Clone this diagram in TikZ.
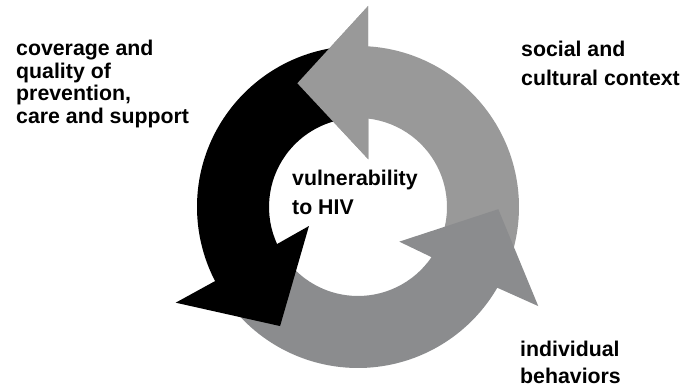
\documentclass[tikz,border=0pt]{standalone}
\usepackage{fontspec}
\setmainfont{Liberation Sans}
\definecolor{lgray}{RGB}{153,153,153}
\definecolor{mgray}{RGB}{139,140,142}
\tikzset{
  larr/.style  = {fill=lgray},
  marr/.style  = {fill=mgray},
  barr/.style  = {fill=black},
  lbl/.style   = {align=left, inner sep=0pt, anchor=base west,
                  font=\fontsize{21.3}{22.5}\selectfont\bfseries},
  lblw/.style  = {lbl, font=\fontsize{21.3}{29}\selectfont\bfseries},
}

\begin{document}
\begin{tikzpicture}[x=1pt,y=1pt]
  \useasboundingbox (0,0) rectangle (694,387);
  \begin{scope}[shift={(358,180)}]
    \fill[larr] (-25:161) arc[start angle=-25, end angle=86.4, radius=161]
      -- (87.1:201.3) -- (116.1:137.8) -- (77.8:48.8) -- (83.3:89)
      arc[start angle=83.3, end angle=-25, radius=89] -- cycle;
    \fill[marr] (215:161) arc[start angle=215, end angle=329.9, radius=161]
      -- (331.2:205.7) -- (359.1:140.3) -- (320:53.9) -- (325.7:89)
      arc[start angle=325.7, end angle=215, radius=89] -- cycle;
    \fill[barr] (92:161) arc[start angle=92, end angle=207.4, radius=161]
      -- (207.7:205.9) -- (236.8:142.3) -- (201.2:52.6) -- (204.6:89)
      arc[start angle=204.6, end angle=92, radius=89] -- cycle;
    \fill[larr] (87.1:201.3) -- (116.1:137.8) -- (77.8:48.8) -- cycle;
  \end{scope}
  \node[lbl] (cov) at (16,263.5) {coverage and\\quality of\\prevention,\\care and support};
  \node[lblw] (soc) at (521,301) {social and\\cultural context};
  \node[lblw] (vul) at (292,172) {vulnerability\\to HIV};
  \node[lblw, font=\fontsize{21.3}{27.5}\selectfont\bfseries] (ind) at (520,3) {individual\\behaviors};
\end{tikzpicture}
\end{document}
